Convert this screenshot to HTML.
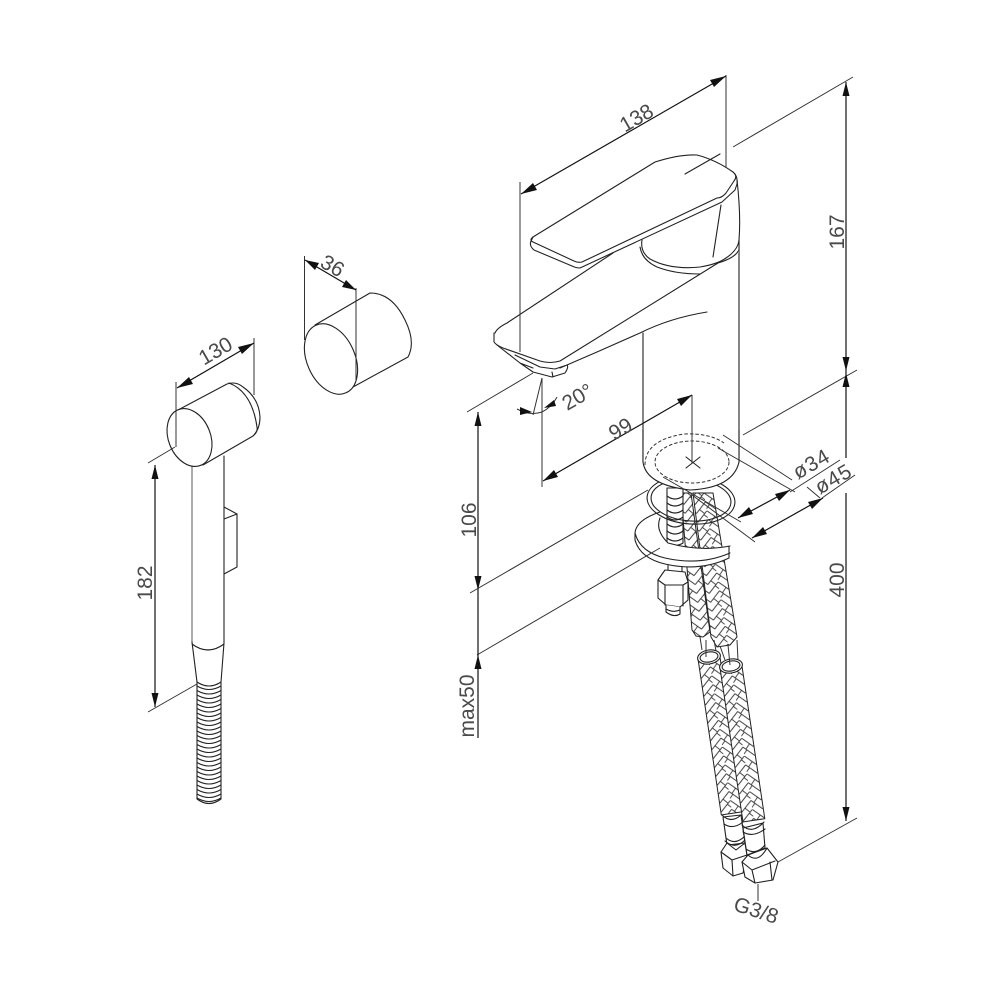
<!DOCTYPE html>
<html><head><meta charset="utf-8"><style>
html,body{margin:0;padding:0;background:#fff;width:1000px;height:1000px;overflow:hidden}
svg{display:block}
text{font-family:"Liberation Sans",sans-serif;fill:#4a4a4a;font-size:21px;text-anchor:middle}
.l{fill:none;stroke:#222;stroke-width:1.1;stroke-linejoin:round;stroke-linecap:round}
.w{fill:#fff;stroke:#222;stroke-width:1.1;stroke-linejoin:round}
.d{fill:none;stroke:#111;stroke-width:1.2}
.e{fill:none;stroke:#333;stroke-width:1}
.g{fill:none;stroke:#888;stroke-width:1.4}
.ar{fill:#111}
</style></head><body>
<svg width="1000" height="1000" viewBox="0 0 1000 1000" xmlns="http://www.w3.org/2000/svg">
<defs>
<pattern id="hb" patternUnits="userSpaceOnUse" width="21" height="18">
<rect width="21" height="18" fill="#fff"/>
<g fill="none" stroke="#333" stroke-width="0.9">
<path d="M0,-9 L10.5,1 M0,0 L10.5,10 M0,9 L10.5,19"/>
<path d="M7,6.700 L2.500,11.500 M3.500,12.300 L0,16"/>
<path d="M21,-9 L10.5,1 M21,0 L10.5,10 M21,9 L10.5,19"/>
<path d="M17.500,3.300 L21,7 M14,15.700 L18.500,20.500 M14,-2.300 L18.500,2.500"/>
</g></pattern>
<pattern id="hbL" href="#hb" patternTransform="translate(693,493) rotate(-8)"/>
<pattern id="hbR" href="#hb" patternTransform="translate(704,493) rotate(-9)"/>
</defs>

<!-- Hand shower -->
<path class="g" d="M192,466 V642"/>
<path class="l" d="M224,456 V643"/>
<path class="l" d="M224,507 L237,514 V567 L224,574 M224,519 L237,514"/>
<path class="l" d="M192,642 L197,682 M224,643 L221,682 M192,644 Q208,656 224,644"/>
<g class="l">
<path d="M197,682 V799 Q209,808 221,799 V682 Q209,690 197,682Z" fill="#fff"/>
<path d="M197,686 Q209,693 221,686 M197,690.500 Q209,697.500 221,690.500 M197,695 Q209,702 221,695 M197,699.500 Q209,706.500 221,699.500 M197,704 Q209,711 221,704 M197,708.500 Q209,715.500 221,708.500 M197,713 Q209,720 221,713 M197,717.500 Q209,724.500 221,717.500 M197,722 Q209,729 221,722 M197,726.500 Q209,733.500 221,726.500 M197,731 Q209,738 221,731 M197,735.500 Q209,742.500 221,735.500 M197,740 Q209,747 221,740 M197,744.500 Q209,751.500 221,744.500 M197,749 Q209,756 221,749 M197,753.500 Q209,760.500 221,753.500 M197,758 Q209,765 221,758 M197,762.500 Q209,769.500 221,762.500 M197,767 Q209,774 221,767 M197,771.500 Q209,778.500 221,771.500 M197,776 Q209,783 221,776 M197,780.500 Q209,787.500 221,780.500 M197,785 Q209,792 221,785 M197,789.500 Q209,796.500 221,789.500 M197,794 Q209,801 221,794 M197,798 Q209,805 221,798"/>
</g>
<path class="w" d="M178,410 L227,384 Q236,381 243,387 Q259,398 260,417 Q260,429 253,436 L203,465 L178,410Z"/>
<path class="l" d="M229,383 Q252,392 257,427 Q258,432 253,436"/>
<ellipse class="w" cx="189.500" cy="437.500" rx="21" ry="30" transform="rotate(-22 189.500 437.500)"/>

<!-- 130 / 182 -->
<path class="e" d="M176,382 V447 M254,338 V395 M148,463 L175,447 M148,712 L197,684"/>
<path class="d" d="M177,388 L254,343"/>
<polygon class="ar" points="177,388 189,377 193,384"/><polygon class="ar" points="254,343 242,354 238,347"/>
<path class="d" d="M155,465 V707"/>
<polygon class="ar" points="155,465 151.500,479 158.500,479"/><polygon class="ar" points="155,707 151.500,693 158.500,693"/>
<text x="219" y="357" transform="rotate(-30 219 357)">130</text>
<text x="152" y="583" transform="rotate(-90 152 583)" font-size="20">182</text>

<!-- Knob -->
<path class="w" d="M315,325 L370,293 Q392,293 405,320 Q416,342 408,357 L353,387 L315,325Z"/>
<ellipse class="w" cx="331" cy="359" rx="24" ry="37" transform="rotate(-24 331 359)"/>
<path class="e" d="M304.500,256 V340 M356,288 V380"/>
<path class="d" d="M305,260 L356,290"/>
<polygon class="ar" points="305,260 319,263 315,270"/><polygon class="ar" points="356,290 342,287 346,280"/>
<text x="329" y="272" transform="rotate(30 329 272)" font-size="20">36</text>

<!-- Faucet body -->
<path class="l" d="M643,333 V462 M739,238 V462"/>
<path d="M495,332 L613,253 L642,238 L739,235 V252 Q735,258 718,263 L560,361 Q550,364 540,362 L498,346 Q495,344 495,340Z" fill="#fff"/>
<path class="l" d="M495,333 Q497,328 507,323 L613,253 M494,333 V342 Q496,345 503,348 L540,361 Q550,364 560,361 L718,263 Q735,258 739,250 V240"/>
<path class="l" d="M497,345 L520,363 L533,372 L552,377 L565,373 Q569,367 567,365 L555,369 L540,367 L515,355 M520,363 L533,368 M552,372 L553,377 M560,368 L597,352 L640,333 Q670,318 707,312"/>
<path class="l" d="M642,240 Q640,252 650,259 Q670,270 700,267 Q718,264 726,258 Q738,250 739,240 M640,247 Q642,260 657,267 Q675,274 700,274"/>
<path class="w" d="M533,237 L655,162 Q680,154 697,155 Q716,160 733,172 Q738,176 737,184 L735,190 L722,202 L580,268 Q576,268 572,266 L534,250 Q529,246 531,241Z"/>
<path class="l" d="M533,237 Q529,240 533,242 L574,261 Q578,263 582,262 L717,198 Q722,198 726,193 L734,181 Q738,176 733,172"/>
<path class="l" d="M737,180 Q741,215 739,240 M721,205 L713,257 M685,174 L720,154"/>

<!-- Lower hoses (upper segments), bolt, nut -->
<path d="M681,493 L691,493 L710,632 L703,637 L696,636 L692,630Z" fill="url(#hbL)" stroke="#222"/>
<path d="M693,493 L713,493 L737,637 L730,645 L717,647 L711,637Z" fill="url(#hbR)" stroke="#222"/>
<path class="w" d="M667,488 H683 V543 Q675,548 667,543Z"/>
<path class="l" d="M667,496 Q675,502 683,496 M667,503 Q675,509 683,503 M667,510 Q675,516 683,510 M667,517 Q675,523 683,517 M667,524 Q675,530 683,524 M667,531 Q675,537 683,531 M667,538 Q675,544 683,538"/>
<path class="w" d="M668,560 H682 V574 H668Z"/>
<path class="w" d="M665,570 L685,572 L688,582 V600 L680,607 L666,605 L658,598 V580Z"/>
<path class="l" d="M658,580 L665,585 H683 L688,582 M665,585 V605 M683,585 V606"/>
<path class="w" d="M666,605 V612 Q674,618 680,614 V607"/>
<path class="l" d="M666,609 Q673,613 680,610"/>

<!-- Washer crescent -->
<path d="M660,512 Q636,520 635,533 V540 Q640,558 665,564 Q700,572 729,558 V547 Q725,545 730,546 Q700,552 668,543 Q655,530 660,512Z" fill="#fff"/>
<path class="l" d="M660,512 Q636,520 635,533 Q640,552 665,558 Q700,566 730,553 M635,533 V540 Q640,558 665,564 Q700,572 729,558 V547 M660,518 Q655,530 668,543 Q700,552 730,546"/>

<!-- Ring -->
<ellipse class="l" cx="691" cy="500" rx="44" ry="24" transform="rotate(4 691 500)"/>
<ellipse class="l" cx="691" cy="500" rx="40" ry="21" transform="rotate(4 691 500)"/>

<!-- Cylinder bottom -->
<path d="M643,440 V462 Q646,485 690,490 Q733,488 739,462 V440Z" fill="#fff"/>
<path class="l" d="M643,462 Q646,485 690,490 Q733,488 739,462 M643,430 V462 M739,430 V462"/>
<path d="M645,465 Q645,440 684,434 Q710,433 724,443" fill="none" stroke="#333" stroke-width="1" stroke-dasharray="3.500 2"/>
<ellipse cx="692" cy="462" rx="37" ry="21" fill="none" stroke="#333" stroke-width="1" stroke-dasharray="3.500 2"/>
<path class="l" d="M686,457 L700,468 M686,468 L700,457"/>

<!-- Lower hoses -->
<path class="e" d="M700,637 L702,650 M714,640 L716,651 M720,646 L725,660 M737,640 L738,660"/>
<g transform="translate(709,658) rotate(-8.500)"><rect x="-11" y="0" width="22" height="157" fill="url(#hb)" stroke="#222"/></g>
<g transform="translate(731,667) rotate(-8.500)"><rect x="-11" y="0" width="22" height="155" fill="url(#hb)" stroke="#222"/></g>
<ellipse class="w" cx="709" cy="657" rx="11.500" ry="7" transform="rotate(-10 709 657)"/>
<ellipse class="l" cx="709" cy="657" rx="9" ry="5" transform="rotate(-10 709 657)"/>
<ellipse class="w" cx="731" cy="666" rx="11.500" ry="7" transform="rotate(-10 731 666)"/>
<ellipse class="l" cx="731" cy="666" rx="9" ry="5" transform="rotate(-10 731 666)"/>
<path class="e" d="M706,640 V657 M728,645 L730,665"/>

<!-- Nuts -->
<path class="w" d="M723,817 L741,815 L745,843 L727,845Z"/>
<path class="l" d="M722,815 Q731,824 741,815 M724,824 Q733,830 743,822"/>
<path class="l" d="M725,841 Q735,850 745,840 M726,838 Q735,846 745,836"/>
<path class="w" d="M727,843 L721,852 L723,868 L733,876 L743,873 L747,855 L745,843 L736,850Z"/>
<path class="l" d="M721,852 L732,860 L747,855 M732,860 L733,876"/>
<path class="w" d="M743,828 L763,823 L765,848 L747,855Z"/>
<path class="l" d="M742,825 Q752,835 764,822 M743,832 Q753,838 765,829 M746,849 Q756,856 765,845"/>
<path class="w" d="M742,862 L748,855 L767,848 L778,862 L773,880 L755,883 L745,877Z"/>
<path class="l" d="M742,862 L752,870 L775,861 M752,870 L755,883 M770,862 L772,880 M748,855 Q758,864 767,848"/>
<path class="e" d="M758,884 V901"/>
<text x="754" y="917" transform="rotate(18 754 917)" font-size="15">G3/8</text>

<!-- Dimensions faucet -->
<path class="e" d="M520,182 V352 M726,75 V167 M733,147 L853,77 M743,435 L857,370 M778,862 L857,818 M467,412 L533,373 M470,593 L648,490 M477,655 L660,548 M542,378 V487 M533,415 L542,378 M692,395 V463"/>
<path class="d" d="M521,194 L726,76"/>
<polygon class="ar" points="521,194 533,183 537,190"/><polygon class="ar" points="726,76 714,87 710,80"/>
<path class="d" d="M846,82 V458 M846,493 V821"/>
<polygon class="ar" points="846,82 842.500,96 849.500,96"/><polygon class="ar" points="846,371 842.500,357 849.500,357"/>
<polygon class="ar" points="846,373 842.500,387 849.500,387"/><polygon class="ar" points="846,821 842.500,807 849.500,807"/>
<path class="d" d="M478,412 V738"/>
<polygon class="ar" points="478,412 474.500,426 481.500,426"/><polygon class="ar" points="478,590 474.500,576 481.500,576"/><polygon class="ar" points="478,655 474.500,669 481.500,669"/>
<path class="d" d="M543,481 L692,395"/>
<polygon class="ar" points="543,481 554,470 558,477"/><polygon class="ar" points="692,395 681,406 677,399"/>
<path class="e" d="M517,409 Q530,416 542,412 Q552,407 557,397"/>
<polygon class="ar" points="532,412 520,407 520,415"/><polygon class="ar" points="544,408 554,400 556,406"/>
<text x="581" y="403" transform="rotate(-30 581 403)" font-size="23">20°</text>
<text x="624" y="435" transform="rotate(-30 624 435)">99</text>
<text x="640" y="124" transform="rotate(-30 640 124)">138</text>
<text x="844" y="232" transform="rotate(-90 844 232)" font-size="20">167</text>
<text x="476" y="520" transform="rotate(-90 476 520)" font-size="22">106</text>
<text x="474" y="706" transform="rotate(-90 474 706)" font-size="20">max50</text>
<text x="844" y="580" transform="rotate(-90 844 580)">400</text>

<!-- dia dims -->
<path class="e" d="M723,435 L792,480 M718,448 L795,492 M663,477 L741,522 M692,495 L755,542 M790,492 L840,460 M807,487 L820,498 M822,498 L855,475"/>
<path class="d" d="M738,518 L790,490 M752,538 L823,498"/>
<polygon class="ar" points="738,518 749,507 753,514"/><polygon class="ar" points="790,490 779,501 775,494"/>
<polygon class="ar" points="752,538 763,527 767,534"/><polygon class="ar" points="823,498 812,509 808,502"/>
<text x="815" y="470" transform="rotate(-30 815 470)" font-size="19" letter-spacing="1">ø34</text>
<text x="837" y="485" transform="rotate(-30 837 485)" font-size="19" letter-spacing="1">ø45</text>
</svg>
</body></html>
